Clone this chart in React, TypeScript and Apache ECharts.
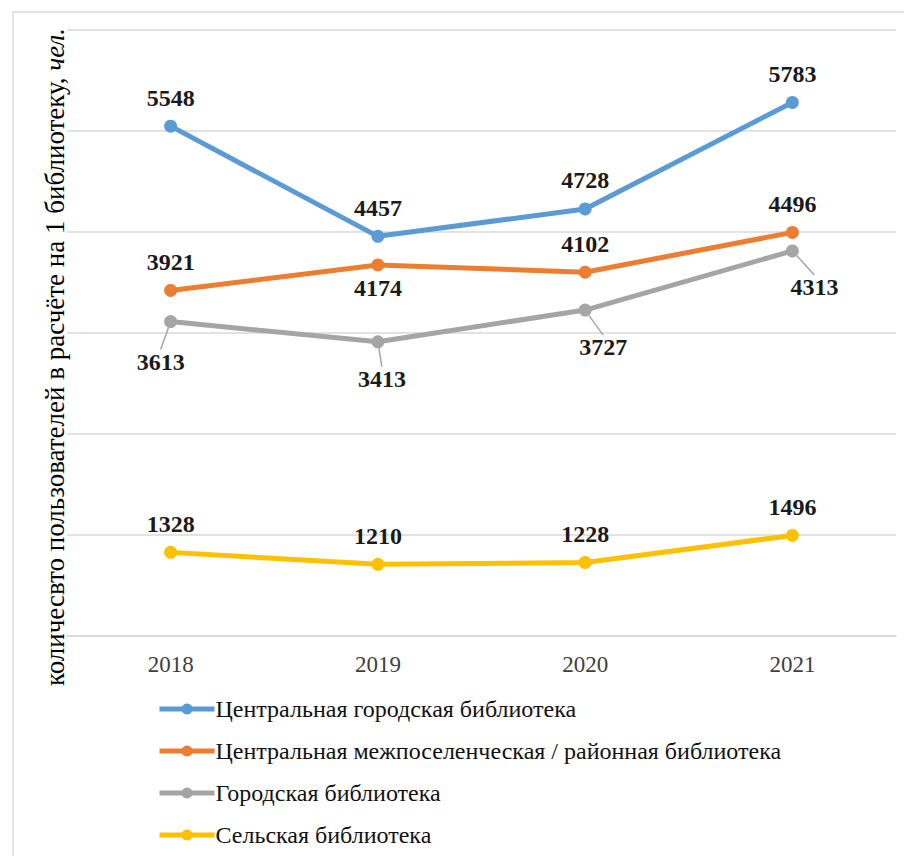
import React, { useEffect, useRef } from "react";
import * as echarts from "echarts";

const years = ["2018", "2019", "2020", "2021"];
const seriesNames = [
  "Центральная городская библиотека",
  "Центральная межпоселенческая / районная библиотека",
  "Городская библиотека",
  "Сельская библиотека",
];
const central = [5548, 4457, 4728, 5783];
const district = [3921, 4174, 4102, 4496];
const city = [3613, 3413, 3727, 4313];
const rural = [1328, 1210, 1228, 1496];
const colors = ["#5B9BD5", "#ED7D31", "#A5A5A5", "#FFC000"];
// label placement per point: "top" or "bottom"
const districtPos = ["top", "bottom", "top", "top"];

const FONT = "Liberation Serif";

export default function App() {
  const ref = useRef<HTMLDivElement>(null);
  useEffect(() => {
    if (!ref.current) return;
    const chart = echarts.init(ref.current, null, { renderer: "svg" });
    const labelBase = {
      show: true,
      fontFamily: FONT,
      fontWeight: "bold",
      fontSize: 24,
      color: "#1a1a1a",
      distance: 10,
    };
    const mk = (name: string, data: any[], color: string, extra: any = {}) => ({
      name,
      type: "line",
      data,
      symbol: "circle",
      symbolSize: 13,
      lineStyle: { width: 5, color },
      itemStyle: { color },
      label: { ...labelBase, position: "top" },
      ...extra,
    });
    chart.setOption({
      animation: false,
      grid: { left: 67, right: 8, top: 30, bottom: 220 },
      xAxis: {
        type: "category",
        data: years,
        boundaryGap: true,
        axisLine: { lineStyle: { color: "#D9D9D9", width: 1.5 } },
        axisTick: { show: false },
        axisLabel: { fontFamily: FONT, fontSize: 23, color: "#404040", margin: 17 },
      },
      yAxis: {
        type: "value",
        min: 500,
        max: 6500,
        interval: 1000,
        axisLabel: { show: false },
        axisLine: { show: false },
        axisTick: { show: false },
        splitLine: { lineStyle: { color: "#D9D9D9", width: 1.5 } },
      },
      legend: {
        orient: "vertical",
        left: 157,
        top: 697,
        padding: 0,
        itemWidth: 55,
        itemHeight: 14,
        itemGap: 18,
        lineStyle: { width: 5 },
        textStyle: { fontFamily: FONT, fontSize: 24, color: "#111", padding: [0, 0, 0, -4] },
        data: seriesNames,
      },
      graphic: [
        {
          type: "rect",
          shape: { x: 13, y: 12, width: 900, height: 900 },
          style: { fill: "none", stroke: "#D9D9D9", lineWidth: 1.5 },
          silent: true,
        },
        {
          type: "text",
          x: 55,
          y: 357,
          rotation: Math.PI / 2,
          style: {
            text: "{a|количесвто пользователей в расчёте на 1 библиотеку, }{b|чел.}",
            align: "center",
            verticalAlign: "middle",
            rich: {
              a: { fontFamily: FONT, fontSize: 27, fill: "#000" },
              b: { fontFamily: FONT, fontSize: 27, fontStyle: "italic", fill: "#000" },
            },
          },
        },
      ],
      series: [
        mk(seriesNames[0], central, colors[0]),
        mk(
          seriesNames[1],
          district.map((v, i) => ({
            value: v,
            label: { position: districtPos[i], distance: districtPos[i] === "bottom" ? 5 : 10 },
          })),
          colors[1]
        ),
        mk(seriesNames[2], city, colors[2], {
          label: { ...labelBase, position: "inside" },
          labelLine: { show: true, lineStyle: { color: "#A5A5A5", width: 1.5 } },
          labelLayout: (p: any) => {
            const off = [
              [-10, 40],
              [4, 37],
              [18, 37],
              [22, 36],
            ][p.dataIndex];
            return { dx: off[0], dy: off[1] };
          },
        }),
        mk(seriesNames[3], rural, colors[3]),
      ],
    });
    return () => chart.dispose();
  }, []);
  return (
    <div
      ref={ref}
      style={{ position: "fixed", left: 0, top: 0, width: 904, height: 856, background: "#fff" }}
    />
  );
}
